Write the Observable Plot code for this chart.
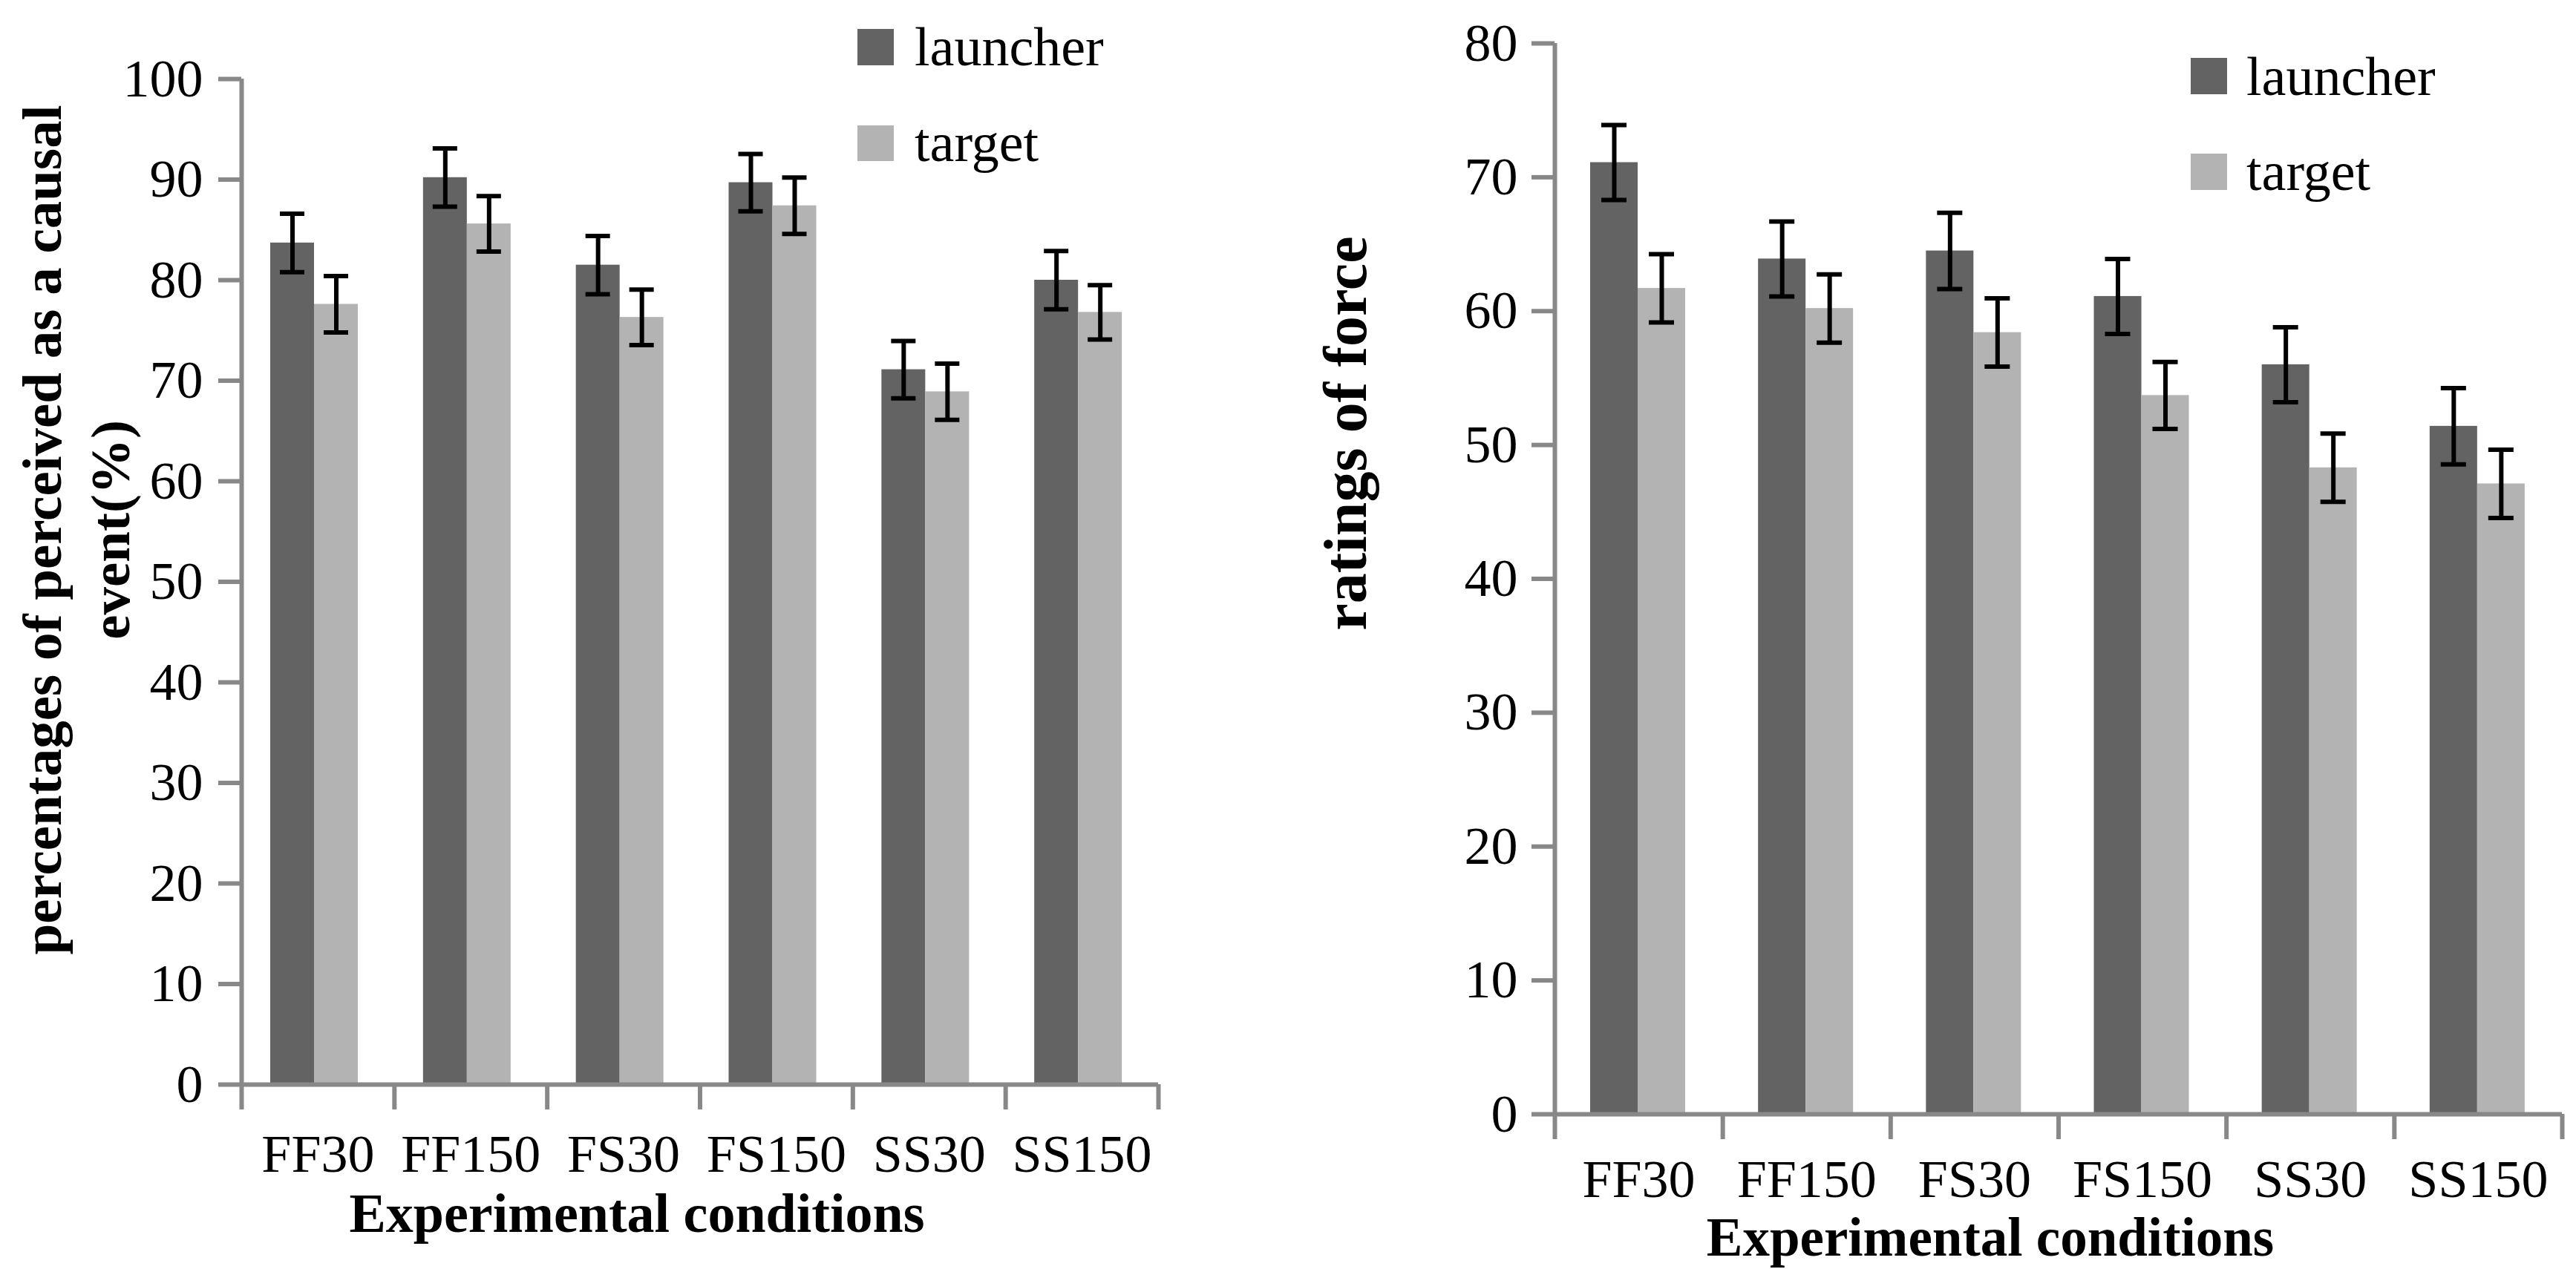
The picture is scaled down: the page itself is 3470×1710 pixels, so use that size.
<!DOCTYPE html>
<html>
<head>
<meta charset="utf-8">
<script src="https://cdn.jsdelivr.net/npm/d3@7"></script>
<script src="https://cdn.jsdelivr.net/npm/@observablehq/plot@0.6"></script>
<style>
  html, body { margin: 0; padding: 0; background: #ffffff; }
  #page { position: relative; width: 3470px; height: 1710px; background: #ffffff; overflow: hidden; }
  .panel { position: absolute; top: 0; }
  #overlay { position: absolute; left: 0; top: 0; pointer-events: none; }
  #page svg, #page svg text, #page svg tspan { font-family: "Liberation Serif", "Times New Roman", serif !important; }
  #overlay text { fill: #000; }
</style>
</head>
<body>
<div id="page">
  <div id="left" class="panel" style="left:0px"></div>
  <div id="right" class="panel" style="left:1750px"></div>
</div>
<script>
// ---------- data ----------
const categories = ["FF30", "FF150", "FS30", "FS150", "SS30", "SS150"];
const seriesNames = ["launcher", "target"];

// left panel: percentages of perceived as a causal event (%)
const causalLauncher    = [83.7, 90.2, 81.5, 89.7, 71.1, 80.0];
const causalTarget      = [77.6, 85.6, 76.3, 87.4, 68.9, 76.8];
const causalLauncherErr = [2.9, 2.9, 2.9, 2.85, 2.85, 2.9];
const causalTargetErr   = [2.8, 2.75, 2.75, 2.8, 2.8, 2.7];
const causalTicks = [0, 10, 20, 30, 40, 50, 60, 70, 80, 90, 100];

// right panel: ratings of force
const forceLauncher    = [71.1, 63.9, 64.5, 61.1, 56.0, 51.4];
const forceTarget      = [61.7, 60.2, 58.4, 53.7, 48.3, 47.1];
const forceLauncherErr = [2.8, 2.8, 2.85, 2.8, 2.8, 2.85];
const forceTargetErr   = [2.55, 2.55, 2.55, 2.5, 2.55, 2.55];
const forceTicks = [0, 10, 20, 30, 40, 50, 60, 70, 80];

const colors = {launcher: "#636363", target: "#b3b3b3"};
const axisGray = "#888888";
const FONT = "'Liberation Serif', 'Times New Roman', serif";

function rowsFor(values, errs) {
  return categories.map((c, i) => ({cat: c, value: values[i], err: errs[i]}));
}

function makeChart(cfg) {
  const {width, height, marginLeft, marginRight, marginTop, marginBottom,
         ymax, ticks, launcher, target, inset, barW, capW, tickPadding, labelPadding} = cfg;
  const bw = (width - marginLeft - marginRight) / categories.length;
  const dxL = inset + barW / 2 - bw / 2;
  const dxT = inset + barW * 1.5 - bw / 2;
  const capInset = (bw - capW) / 2;
  const errMarks = (rows, dx) => [
    Plot.ruleX(rows, {x: "cat", y1: d => d.value - d.err, y2: d => d.value + d.err, dx, stroke: "#000", strokeWidth: 6}),
    Plot.tickY(rows, {x: "cat", y: d => d.value + d.err, dx, inset: capInset, stroke: "#000", strokeWidth: 6}),
    Plot.tickY(rows, {x: "cat", y: d => d.value - d.err, dx, inset: capInset, stroke: "#000", strokeWidth: 6})
  ];
  return Plot.plot({
    width, height, marginLeft, marginRight, marginTop, marginBottom,
    style: {fontFamily: FONT, background: "#ffffff", color: "#000", overflow: "visible"},
    x: {type: "band", domain: categories, padding: 0, round: false, axis: null},
    y: {domain: [0, ymax], axis: null},
    marks: [
      Plot.barY(launcher, {x: "cat", y: "value", fill: colors.launcher,
        insetLeft: inset, insetRight: bw - inset - barW}),
      Plot.barY(target, {x: "cat", y: "value", fill: colors.target,
        insetLeft: inset + barW, insetRight: bw - inset - 2 * barW}),
      ...errMarks(launcher, dxL),
      ...errMarks(target, dxT),
      // axis lines
      Plot.ruleY([0], {stroke: axisGray, strokeWidth: 6}),
      Plot.ruleX([categories[0]], {x: d => d, dx: -bw / 2, stroke: axisGray, strokeWidth: 6}),
      // y ticks and labels
      Plot.axisY({ticks, tickSize: 31, tickPadding, stroke: axisGray, strokeWidth: 6,
        fill: "#000", fontSize: 72, fontFamily: FONT, label: null, tickFormat: d => String(d)}),
      // x boundary ticks (between categories)
      Plot.axisX({ticks: categories, tickSize: 34, dx: -bw / 2, stroke: axisGray, strokeWidth: 6,
        tickFormat: () => "", label: null}),
      Plot.axisX({ticks: [categories[categories.length - 1]], tickSize: 34, dx: bw / 2, stroke: axisGray,
        strokeWidth: 6, tickFormat: () => "", label: null}),
      // x category labels
      Plot.axisX({ticks: categories, tickSize: 0, tickPadding: labelPadding, fill: "#000",
        fontSize: 72, fontFamily: FONT, label: null})
    ]
  });
}

const leftChart = makeChart({
  width: 1700, height: 1710, marginLeft: 325, marginRight: 140, marginTop: 106, marginBottom: 249,
  ymax: 100, ticks: causalTicks,
  launcher: rowsFor(causalLauncher, causalLauncherErr),
  target: rowsFor(causalTarget, causalTargetErr),
  inset: 39, barW: 59, capW: 33, tickPadding: 21, labelPadding: 66
});
document.getElementById("left").appendChild(leftChart);

const rightChart = makeChart({
  width: 1720, height: 1710, marginLeft: 344, marginRight: 19, marginTop: 58, marginBottom: 209,
  ymax: 80, ticks: forceTicks,
  launcher: rowsFor(forceLauncher, forceLauncherErr),
  target: rowsFor(forceTarget, forceTargetErr),
  inset: 48, barW: 64, capW: 34, tickPadding: 19, labelPadding: 60
});
document.getElementById("right").appendChild(rightChart);

// ---------- titles, axis labels and legends ----------
const labels = {
  leftY: ["percentages of perceived as a causal", "event(%)"],
  rightY: "ratings of force",
  xTitle: "Experimental conditions"
};
const NS = "http://www.w3.org/2000/svg";
const ov = document.createElementNS(NS, "svg");
ov.setAttribute("id", "overlay");
ov.setAttribute("width", 3470);
ov.setAttribute("height", 1710);
function addText(str, x, y, size, weight, rotate, anchor) {
  const t = document.createElementNS(NS, "text");
  t.setAttribute("transform", `translate(${x},${y})` + (rotate ? ` rotate(${rotate})` : ""));
  t.setAttribute("font-size", size);
  t.setAttribute("font-weight", weight);
  t.setAttribute("text-anchor", anchor || "start");
  t.textContent = str;
  ov.appendChild(t);
}
function addRect(x, y, w, h, fill) {
  const r = document.createElementNS(NS, "rect");
  r.setAttribute("x", x); r.setAttribute("y", y);
  r.setAttribute("width", w); r.setAttribute("height", h);
  r.setAttribute("fill", fill);
  ov.appendChild(r);
}
// left panel
addText(labels.leftY[0], 82, 714, 75, "bold", -90, "middle");
addText(labels.leftY[1], 174, 714, 75, "bold", -90, "middle");
addText(labels.xTitle, 858, 1660, 74, "bold", 0, "middle");
addRect(1155, 39, 49, 49, colors[seriesNames[0]]);
addText(seriesNames[0], 1232, 88, 74, "normal", 0, "start");
addRect(1155, 169, 49, 48, colors[seriesNames[1]]);
addText(seriesNames[1], 1232, 217, 74, "normal", 0, "start");
// right panel
addText(labels.rightY, 1840, 584, 82, "bold", -90, "middle");
addText(labels.xTitle, 2681, 1692, 73, "bold", 0, "middle");
addRect(2951, 78, 49, 49, colors[seriesNames[0]]);
addText(seriesNames[0], 3026, 128, 74, "normal", 0, "start");
addRect(2951, 207, 49, 49, colors[seriesNames[1]]);
addText(seriesNames[1], 3026, 256, 74, "normal", 0, "start");
document.getElementById("page").appendChild(ov);
</script>
</body>
</html>
